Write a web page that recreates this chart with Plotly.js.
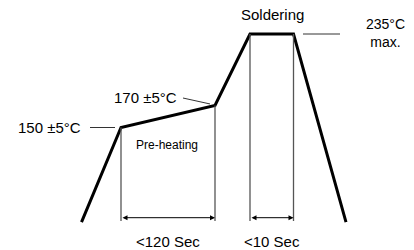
<!DOCTYPE html>
<html>
<head>
<meta charset="utf-8">
<script src="https://cdn.plot.ly/plotly-3.0.1.min.js"></script>
<style>html,body{margin:0;padding:0;background:#fff;}#chart{width:414px;height:250px;}</style>
</head>
<body>
<div id="chart"></div>
<script>
// Schematic reflow profile: time (arbitrary schematic units) vs temperature (°C)
const profileTime = [81.5, 121, 215, 250, 293.5, 346];
const profileTemp = [64, 150, 170, 235, 235, 64];

// Vertical phase markers (time, top temperature)
const markerTime = [121, 215, 250, 293.5];
const markerTop = [150, 170, 235, 235];
const markerBottom = 65;

// Duration spans
const spanStart = [121, 250];
const spanEnd = [215, 293.5];
const spanLabels = ['<120 Sec', '<10 Sec'];
const spanArrowTemp = 68;
const spanLabelTemp = 46.4;

// Leader lines [x0, y0, x1, y1]
const leaderX0 = [90, 183, 303];
const leaderY0 = [150, 176.8, 235];
const leaderX1 = [115, 210, 340];
const leaderY1 = [150, 171.4, 235];

// Temperature labels
const tempLabels = ['150 ±5°C', '170 ±5°C'];
const tempLabelX = [83, 179];
const tempLabelY = [150, 177.7];

const FONT = 'Liberation Sans, Arial, sans-serif';

const traces = [{
  x: profileTime, y: profileTemp, mode: 'lines',
  line: {color: '#000', width: 3}, hoverinfo: 'skip'
}];

const shapes = [];
markerTime.forEach((t, i) => {
  shapes.push({type: 'line', xref: 'x', yref: 'y', x0: t, x1: t, y0: markerBottom, y1: markerTop[i],
    line: {color: '#555', width: 1.3}});
});
leaderX0.forEach((x, i) => {
  shapes.push({type: 'line', xref: 'x', yref: 'y', x0: x, x1: leaderX1[i], y0: leaderY0[i], y1: leaderY1[i],
    line: {color: '#333', width: 1}});
});

const annotations = [];
spanStart.forEach((s, i) => {
  annotations.push({x: spanEnd[i], y: spanArrowTemp, ax: s, ay: spanArrowTemp, axref: 'x', ayref: 'y',
    xref: 'x', yref: 'y', text: '', showarrow: true, arrowside: 'end+start', arrowhead: 2, startarrowhead: 2,
    arrowsize: 1, startarrowsize: 1, arrowwidth: 1, arrowcolor: '#000', standoff: 0, startstandoff: 0});
  annotations.push({x: (s + spanEnd[i]) / 2, y: spanLabelTemp, xref: 'x', yref: 'y', text: spanLabels[i],
    showarrow: false, font: {family: FONT, size: 15, color: '#000'}});
});
tempLabels.forEach((t, i) => {
  annotations.push({x: tempLabelX[i], y: tempLabelY[i], xref: 'x', yref: 'y', text: t, xanchor: 'right',
    showarrow: false, font: {family: FONT, size: 15, color: '#000'}});
});
annotations.push({x: 134, y: 134.5, xref: 'x', yref: 'y', text: 'Pre-heating', xanchor: 'left',
  showarrow: false, font: {family: FONT, size: 12, color: '#000'}});
annotations.push({x: 272.5, y: 252.3, xref: 'x', yref: 'y', text: 'Soldering',
  showarrow: false, font: {family: FONT, size: 15, color: '#000'}});
annotations.push({x: 385.5, y: 235.5, xref: 'x', yref: 'y', text: '235°C<br>max.', align: 'center',
  showarrow: false, borderpad: 0, font: {family: FONT, size: 14, color: '#000'}});

const layout = {
  width: 414, height: 250,
  margin: {l: 0, r: 0, t: 0, b: 0},
  paper_bgcolor: '#fff', plot_bgcolor: '#fff',
  showlegend: false,
  xaxis: {range: [0, 414], visible: false, fixedrange: true},
  yaxis: {range: [38.636, 265.909], visible: false, fixedrange: true},
  shapes: shapes,
  annotations: annotations
};

Plotly.newPlot('chart', traces, layout, {staticPlot: true, displayModeBar: false});
</script>
</body>
</html>
